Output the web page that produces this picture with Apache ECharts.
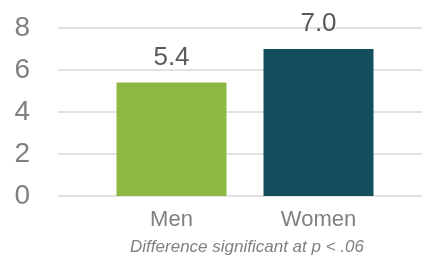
<!DOCTYPE html>
<html lang="en">
<head>
    <meta charset="UTF-8">
    <title>Men vs Women</title>
    <script src="https://cdn.jsdelivr.net/npm/echarts@6/dist/echarts.min.js"></script>
    <style>
        html, body { margin: 0; padding: 0; background: #fff; }
        #container { width: 422px; height: 258px; }
    </style>
</head>
<body>
<div id="container"></div>
<script type="text/javascript">
// data
var categories = ['Men', 'Women'];
var values = [5.4, 7.0];
var yTicks = [0, 2, 4, 6, 8];
var note = 'Difference significant at p < .06';

var barColors = ['#8db943', '#124e5c'];
var font = 'Liberation Sans, Arial, sans-serif';

var myChart = echarts.init(document.getElementById('container'));

var option = {
    animation: false,
    // grid 0 only carries the long gridlines + y labels, grid 1 holds the bars
    grid: [
        {left: 58, right: 0, top: 28, bottom: 62},
        {left: 98, right: 30, top: 28, bottom: 62}
    ],
    xAxis: [
        {gridIndex: 0, type: 'value', show: false, min: 0, max: 1},
        {
            gridIndex: 1,
            type: 'category',
            data: categories,
            axisLine: {show: false},
            axisTick: {show: false},
            axisLabel: {fontSize: 22, color: '#808080', fontFamily: font, margin: 13}
        }
    ],
    yAxis: [
        {
            gridIndex: 0,
            type: 'value',
            min: yTicks[0],
            max: yTicks[yTicks.length - 1],
            interval: yTicks[1] - yTicks[0],
            axisLine: {show: false},
            axisTick: {show: false},
            axisLabel: {fontSize: 28, color: '#808080', fontFamily: font, margin: 28},
            splitLine: {lineStyle: {color: '#e2e2e2', width: 2}}
        },
        {
            gridIndex: 1,
            type: 'value',
            show: false,
            min: yTicks[0],
            max: yTicks[yTicks.length - 1],
            splitLine: {show: false}
        }
    ],
    graphic: [{
        type: 'text',
        x: 247,
        y: 247,
        style: {
            text: note,
            fontSize: 17,
            fontStyle: 'italic',
            fontFamily: font,
            fill: '#808080',
            align: 'center',
            verticalAlign: 'middle'
        }
    }],
    series: [{
        type: 'bar',
        xAxisIndex: 1,
        yAxisIndex: 1,
        barWidth: 110,
        data: values.map(function (v, i) {
            return {value: v, itemStyle: {color: barColors[i]}};
        }),
        label: {
            show: true,
            position: 'top',
            distance: 12,
            fontSize: 26,
            color: '#595959',
            fontFamily: font,
            formatter: function (p) { return p.value.toFixed(1); }
        }
    }]
};

myChart.setOption(option);
</script>
</body>
</html>
